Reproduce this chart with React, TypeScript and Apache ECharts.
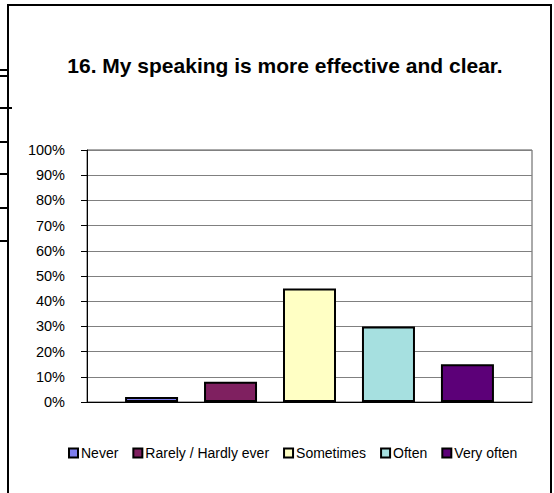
import React, { useEffect, useRef } from "react";
import * as echarts from "echarts";

const categories = ["Never", "Rarely / Hardly ever", "Sometimes", "Often", "Very often"];
const values = [2, 8, 45, 30, 15];
const colors = ["#7f7fef", "#7f2060", "#ffffc4", "#a6e0e0", "#5c0078"];
const yTicks = [0, 10, 20, 30, 40, 50, 60, 70, 80, 90, 100];

export default function App() {
  const ref = useRef<HTMLDivElement>(null);
  useEffect(() => {
    document.body.style.margin = "0";
    const chart = echarts.init(ref.current!, undefined, { renderer: "svg" });
    const font = "Arial, 'Liberation Sans', sans-serif";
    const series = categories.map((name, i) => ({
      name,
      type: "bar" as const,
      data: [values[i]],
      barWidth: 53,
      barGap: "49%",
      itemStyle: { color: colors[i], borderColor: "#000", borderWidth: 2 },
    }));
    const stubs = [70, 76, 108, 142, 174, 208, 241].map((y) => ({
      type: "line",
      shape: { x1: 0, y1: y, x2: y === 108 ? 12 : 8, y2: y },
      style: { stroke: "#000", lineWidth: 2 },
      z: 10,
    }));
    chart.setOption({
      animation: false,
      backgroundColor: "#fff",
      title: {
        text: "16. My speaking is more effective and clear.",
        left: 280,
        textAlign: "center",
        top: 50,
        textStyle: { fontFamily: font, fontSize: 21, fontWeight: "bold", color: "#000" },
      },
      grid: {
        left: 87,
        right: 22,
        top: 150,
        bottom: 91,
        show: true,
        borderColor: "#555",
        borderWidth: 1,
      },
      legend: {
        left: 63,
        top: 441,
        icon: "rect",
        itemWidth: 9,
        itemHeight: 9,
        itemGap: 14,
        textStyle: { fontFamily: font, fontSize: 14, color: "#000", padding: [0, 0, 0, -2] },
        data: categories,
      },
      xAxis: {
        type: "category",
        data: ["Q16"],
        axisLine: { lineStyle: { color: "#000", width: 1 } },
        axisTick: { show: false },
        axisLabel: { show: false },
      },
      yAxis: {
        type: "value",
        min: 0,
        max: 100,
        interval: 10,
        axisLine: { show: true, lineStyle: { color: "#000", width: 1 } },
        axisTick: { show: true, length: 6, lineStyle: { color: "#000" } },
        axisLabel: {
          margin: 22,
          fontFamily: font,
          fontSize: 14.5,
          color: "#000",
          formatter: (v: number) => (yTicks.includes(v) ? v + "%" : ""),
        },
        splitLine: { lineStyle: { color: "#808080", width: 1 } },
      },
      series,
      graphic: [
        {
          type: "rect",
          shape: { x: 8, y: 5, width: 543, height: 500 },
          style: { fill: "none", stroke: "#000", lineWidth: 2 },
          z: 10,
        },
        ...stubs,
      ],
    });
    return () => chart.dispose();
  }, []);
  return <div ref={ref} style={{ width: 554, height: 493 }} />;
}
